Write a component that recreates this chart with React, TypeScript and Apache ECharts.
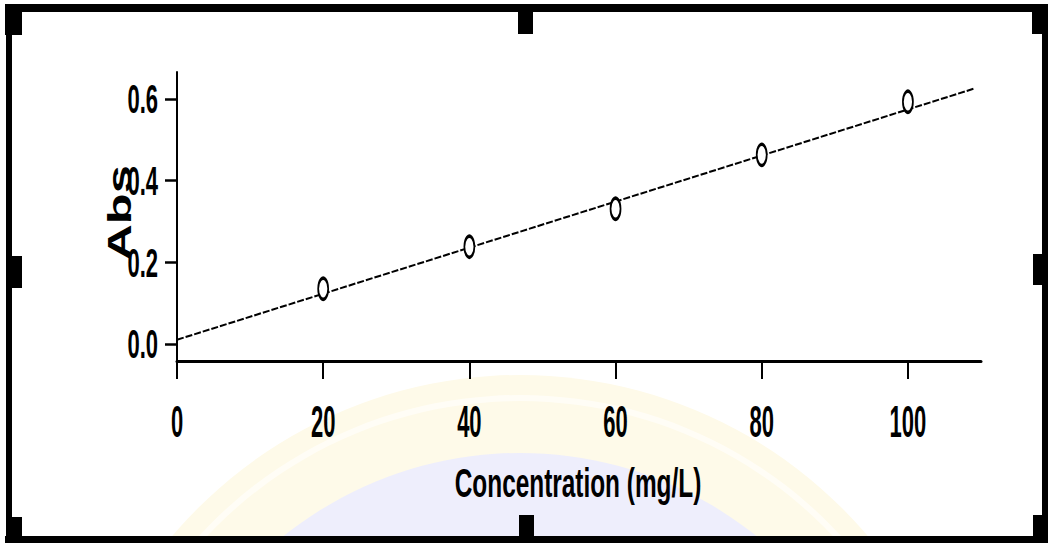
import React, { useEffect, useRef } from "react";
import * as echarts from "echarts";

// ---- data ----
const concentration = [20, 40, 60, 80, 100];
const absorbance = [0.135, 0.238, 0.331, 0.463, 0.593];
const fitX = [0, 109];
const fitY = [0.01, 0.625];
const xTicks = [0, 20, 40, 60, 80, 100];
const xTickLabels = ["0", "20", "40", "60", "80", "100"];
const yTicks = [0.0, 0.2, 0.4, 0.6];
const yTickLabels = ["0.0", "0.2", "0.4", "0.6"];
const xTitle = "Concentration (mg/L)";
const yTitle = "Abs";

const FONT = "'Liberation Sans', Arial, sans-serif";

export default function App() {
  const ref = useRef<HTMLDivElement>(null);

  useEffect(() => {
    document.body.style.margin = "0";
    const chart = echarts.init(ref.current as HTMLDivElement, null, { renderer: "svg" });

    const scatterData = concentration.map((c, i) => [c, absorbance[i]]);
    const fitData = fitX.map((x, i) => [x, fitY[i]]);

    chart.setOption({
      animation: false,
      backgroundColor: "#ffffff",
      grid: { left: 177, top: 72, width: 804, height: 289, containLabel: false },
      xAxis: {
        type: "value",
        min: 0,
        max: 110,
        axisLine: { show: true, onZero: false, lineStyle: { color: "#000", width: 3 } },
        axisTick: { show: true, customValues: xTicks, length: 18, lineStyle: { color: "#000", width: 2 } },
        axisLabel: { show: false },
        splitLine: { show: false },
      },
      yAxis: {
        type: "value",
        min: -0.042,
        max: 0.666,
        axisLine: { show: true, onZero: false, lineStyle: { color: "#000", width: 2 } },
        axisTick: { show: true, customValues: yTicks, length: 12, lineStyle: { color: "#000", width: 2.5 } },
        axisLabel: { show: false },
        splitLine: { show: false },
      },
      series: [
        {
          type: "line",
          data: fitData,
          symbol: "none",
          lineStyle: { color: "#000", width: 2, type: [7, 2] },
          z: 2,
        },
        {
          type: "scatter",
          data: scatterData,
          symbol: "circle",
          symbolSize: [10, 21],
          itemStyle: { color: "#ffffff", borderColor: "#000000", borderWidth: 2.5, opacity: 1 },
          z: 3,
        },
      ],
    });

    const toPx = (x: number, y: number) =>
      chart.convertToPixel({ gridIndex: 0 }, [x, y]) as number[];

    const textStyle = (text: string, size: number, align: string) => ({
      text,
      fill: "#000",
      fontSize: size,
      fontWeight: "bold",
      fontFamily: FONT,
      align,
      verticalAlign: "middle",
    });

    const graphics: any[] = [];

    // faint watermark seal
    graphics.push({
      type: "circle",
      shape: { cx: 520, cy: 831, r: 456 },
      style: { fill: "#fefae9" },
      z: -10,
      silent: true,
    });
    graphics.push({
      type: "ring",
      shape: { cx: 520, cy: 831, r: 436, r0: 430 },
      style: { fill: "#fffdf6" },
      z: -9,
      silent: true,
    });
    graphics.push({
      type: "circle",
      shape: { cx: 520, cy: 831, r: 378 },
      style: { fill: "#eeeefc" },
      z: -9,
      silent: true,
    });

    // x tick labels
    xTicks.forEach((v, i) => {
      const p = toPx(v, 0);
      graphics.push({
        type: "text",
        x: p[0],
        y: 422,
        scaleX: 1.1,
        scaleY: 2.25,
        style: textStyle(xTickLabels[i], 20, "center"),
        z: 10,
      });
    });

    // y tick labels
    yTicks.forEach((v, i) => {
      const p = toPx(0, v);
      graphics.push({
        type: "text",
        x: 158,
        y: p[1],
        scaleX: 1.1,
        scaleY: 2.05,
        style: textStyle(yTickLabels[i], 20, "right"),
        z: 10,
      });
    });

    // axis titles
    graphics.push({
      type: "text",
      x: 578,
      y: 482,
      scaleX: 1.22,
      scaleY: 2.05,
      style: textStyle(xTitle, 20, "center"),
      z: 10,
    });
    graphics.push({
      type: "text",
      x: 119,
      y: 213,
      rotation: Math.PI / 2,
      scaleX: 2.3,
      scaleY: 1.5,
      style: textStyle(yTitle, 22, "center"),
      z: 10,
    });

    // frame with handles
    const black = { fill: "#000" };
    const rects = [
      [5, 4, 1043, 8], // top
      [5, 536, 1043, 7], // bottom
      [6, 4, 6, 539], // left
      [1042, 4, 6, 539], // right
      [5, 4, 17, 31], // top-left handle
      [518, 4, 15, 30], // top-mid handle
      [1032, 4, 16, 30], // top-right handle
      [7, 256, 15, 32], // left-mid handle
      [1033, 254, 15, 31], // right-mid handle
      [7, 517, 15, 26], // bottom-left handle
      [519, 515, 15, 28], // bottom-mid handle
      [1033, 515, 15, 28], // bottom-right handle
    ];
    rects.forEach((r) => {
      graphics.push({
        type: "rect",
        shape: { x: r[0], y: r[1], width: r[2], height: r[3] },
        style: black,
        z: 20,
        silent: true,
      });
    });

    chart.setOption({ graphic: graphics });

    return () => chart.dispose();
  }, []);

  return (
    <div
      ref={ref}
      style={{ position: "absolute", left: 0, top: 0, width: 1051, height: 543 }}
    />
  );
}
